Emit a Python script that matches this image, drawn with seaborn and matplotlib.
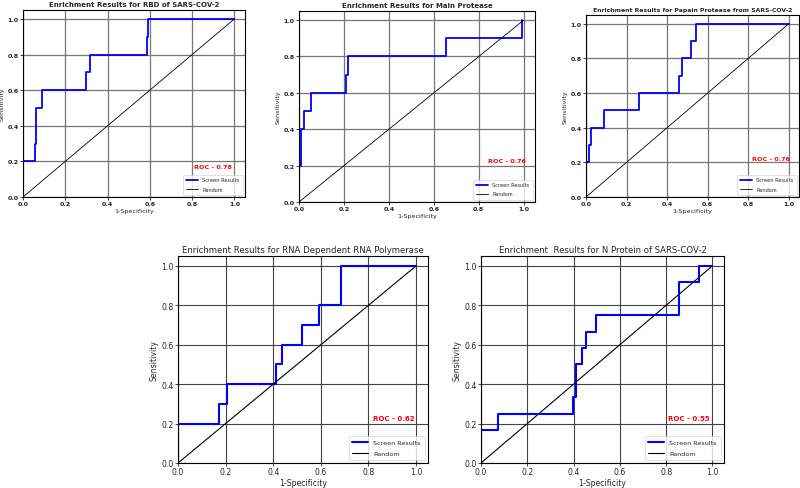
import numpy as np
import pandas as pd
import matplotlib
matplotlib.use("Agg")
import matplotlib.pyplot as plt
import seaborn as sns

sns.set_theme(style="ticks")
plt.rcParams['font.family'] = ['DejaVu Sans']

# ---- data ----
titles = [
    "Enrichment Results for RBD of SARS-COV-2",
    "Enrichment Results for Main Protease",
    "Enrichment Results for Papain Protease from SARS-COV-2",
    "Enrichment Results for RNA Dependent RNA Polymerase",
    "Enrichment  Results for N Protein of SARS-COV-2",
]
roc_values = ["0.78", "0.76", "0.76", "0.62", "0.55"]

rbd_fpr = [0, 0, 0.056, 0.056, 0.062, 0.062, 0.088, 0.088, 0.296, 0.296, 0.315, 0.315, 0.588, 0.588, 0.592, 0.592, 1.0]
rbd_tpr = [0, 0.2, 0.2, 0.3, 0.3, 0.5, 0.5, 0.6, 0.6, 0.7, 0.7, 0.8, 0.8, 0.9, 0.9, 1.0, 1.0]

mpro_fpr = [0, 0, 0.008, 0.008, 0.022, 0.022, 0.055, 0.055, 0.211, 0.211, 0.219, 0.219, 0.655, 0.655, 0.993, 0.993]
mpro_tpr = [0, 0.2, 0.2, 0.4, 0.4, 0.5, 0.5, 0.6, 0.6, 0.7, 0.7, 0.8, 0.8, 0.9, 0.9, 1.0]

plpro_fpr = [0, 0, 0.015, 0.015, 0.023, 0.023, 0.089, 0.089, 0.262, 0.262, 0.46, 0.46, 0.473, 0.473, 0.519, 0.519, 0.542, 0.542, 1.0]
plpro_tpr = [0, 0.2, 0.2, 0.3, 0.3, 0.4, 0.4, 0.5, 0.5, 0.6, 0.6, 0.7, 0.7, 0.8, 0.8, 0.9, 0.9, 1.0, 1.0]

rdrp_fpr = [0, 0, 0.171, 0.171, 0.206, 0.206, 0.413, 0.413, 0.435, 0.435, 0.52, 0.52, 0.594, 0.594, 0.684, 0.684, 1.0]
rdrp_tpr = [0, 0.2, 0.2, 0.3, 0.3, 0.4, 0.4, 0.5, 0.5, 0.6, 0.6, 0.7, 0.7, 0.8, 0.8, 1.0, 1.0]

nprot_fpr = [0, 0, 0.075, 0.075, 0.397, 0.397, 0.412, 0.412, 0.436, 0.436, 0.454, 0.454, 0.497, 0.497, 0.857, 0.857, 0.942, 0.942, 1.0]
nprot_tpr = [0, 0.167, 0.167, 0.25, 0.25, 0.333, 0.333, 0.5, 0.5, 0.583, 0.583, 0.667, 0.667, 0.75, 0.75, 0.917, 0.917, 1.0, 1.0]

random_x = [0, 1]
random_y = [0, 1]

curves = [(rbd_fpr, rbd_tpr), (mpro_fpr, mpro_tpr), (plpro_fpr, plpro_tpr),
          (rdrp_fpr, rdrp_tpr), (nprot_fpr, nprot_tpr)]

# ---- layout (pixel boxes: left, right, top, bottom) ----
W, H = 800, 489
boxes = [(23, 245, 11, 198), (299, 535, 12, 203), (586, 799, 16, 198),
         (178, 428, 257, 464), (481, 724, 257, 464)]
roc_pos = [(0.81, 0.17), (0.84, 0.23), (0.82, 0.22), (0.82, 0.228), (0.81, 0.229)]
small = [True, True, True, False, False]
title_fs = [5.0, 5.0, 4.4, 6.1, 6.1]

fig = plt.figure(figsize=(W / 100, H / 100), dpi=100)

for i, ((l, r, t, b), (fx, ty)) in enumerate(zip(boxes, curves)):
    ax = fig.add_axes([l / W, (H - b) / H, (r - l) / W, (b - t) / H])
    sm = small[i]
    fs_tick = 4.6 if sm else 5.6
    fs_lab = 4.6 if sm else 5.6
    fs_leg = 3.6 if sm else 4.6
    fs_roc = 4.6 if sm else 5.0
    df = pd.DataFrame({"x": fx, "y": ty})
    sns.lineplot(data=df, x="x", y="y", sort=False, estimator=None, ax=ax,
                 color="blue", lw=1.3 if sm else 1.5, label="Screen Results")
    sns.lineplot(x=random_x, y=random_y, ax=ax, color="black",
                 lw=0.6 if sm else 0.8, label="Random")
    ax.set_xlim(0, 1.05)
    ax.set_ylim(0, 1.05)
    ticks = [0.0, 0.2, 0.4, 0.6, 0.8, 1.0]
    ax.set_xticks(ticks)
    ax.set_yticks(ticks)
    ax.set_xticklabels([f"{v:.1f}" for v in ticks], fontsize=fs_tick,
                       fontweight="bold" if sm else "normal")
    ax.set_yticklabels([f"{v:.1f}" for v in ticks], fontsize=fs_tick,
                       fontweight="bold" if sm else "normal")
    ax.tick_params(length=2, width=0.6, pad=1)
    ax.grid(True, color="#777777" if sm else "#444444", lw=0.9 if sm else 0.8)
    ax.set_axisbelow(True)
    for s in ax.spines.values():
        s.set_color("black")
        s.set_linewidth(0.8)
    ax.set_title(titles[i], fontsize=title_fs[i], fontweight="bold" if sm else "normal", pad=3)
    ax.set_xlabel("1-Specificity", fontsize=fs_lab, labelpad=1)
    ax.set_ylabel("Sensitivity", fontsize=fs_lab, labelpad=2)
    ax.text(roc_pos[i][0], roc_pos[i][1], "ROC - " + roc_values[i], color="red",
            fontsize=fs_roc, fontweight="bold", va="center")
    leg = ax.legend(loc="lower right", fontsize=fs_leg, frameon=True,
                    handlelength=2.5, borderpad=0.6, labelspacing=0.8)
    leg.get_frame().set_linewidth(0.5)

fig.savefig("out.png", dpi=100)
